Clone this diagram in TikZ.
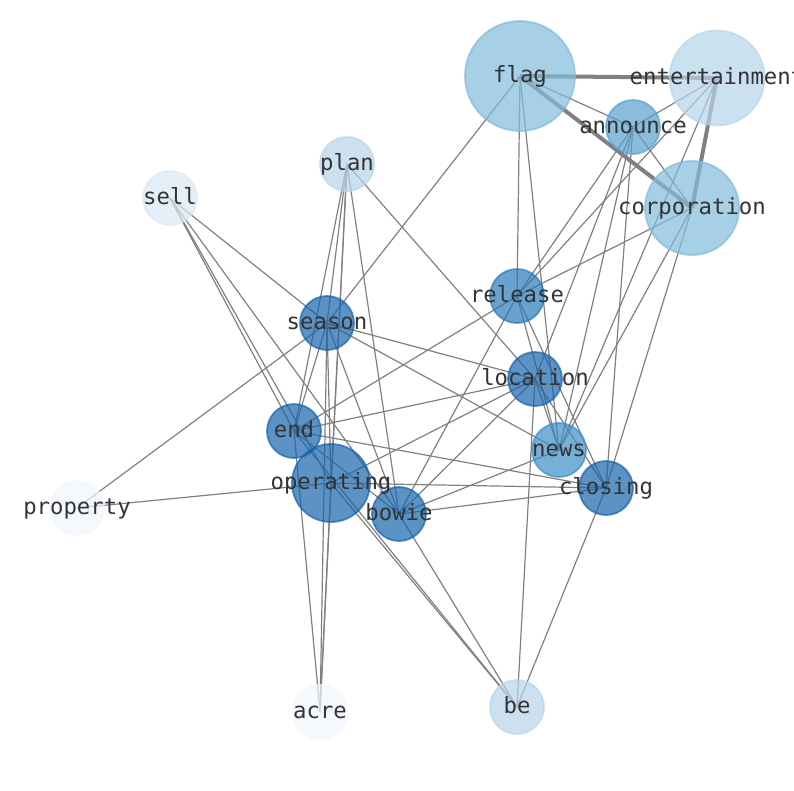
\documentclass[tikz,border=0pt]{standalone}
\usepackage{fontspec}
\newfontfamily\monof{DejaVu Sans Mono}
\definecolor{cDark}{HTML}{1764AB}
\definecolor{cRel}{HTML}{2A7AB9}
\definecolor{cNews}{HTML}{3D8DC4}
\definecolor{cAnn}{HTML}{58A1CF}
\definecolor{cFlag}{HTML}{82BBDB}
\definecolor{cEnt}{HTML}{B7D4EA}
\definecolor{cSell}{HTML}{D9E8F5}
\definecolor{cPale}{HTML}{F1F7FD}
\definecolor{edgec}{HTML}{808080}
\definecolor{labc}{HTML}{333333}
\tikzset{
  vtx/.style={circle, inner sep=0pt, line width=1.8pt, fill opacity=0.7, draw opacity=0.7},
  lbl/.style={font=\monof\fontsize{22.3}{23}\selectfont, text=labc, text height=17.5pt, text depth=4pt, inner sep=0pt, anchor=center},
  edg/.style={draw=edgec, line width=1.2pt},
  thk/.style={draw=edgec, line width=4pt},
}
\begin{document}
\begin{tikzpicture}[x=1pt,y=-1pt]
\useasboundingbox (0,0) rectangle (794,790);
\clip (0,0) rectangle (794,790);
% positions
\coordinate (flag) at (520,76);
\coordinate (ent) at (717,78);
\coordinate (announce) at (633,127);
\coordinate (corp) at (692,208);
\coordinate (plan) at (347,164);
\coordinate (sell) at (170,198);
\coordinate (release) at (517,296);
\coordinate (season) at (327,323);
\coordinate (location) at (535,379);
\coordinate (end) at (294,431);
\coordinate (news) at (559,450);
\coordinate (operating) at (331,483);
\coordinate (bowie) at (399,514);
\coordinate (closing) at (606,488);
\coordinate (property) at (77,508);
\coordinate (acre) at (320,712);
\coordinate (be) at (517,707);
% thick edges
\draw[thk] (flag) -- (ent);
\draw[thk] (flag) -- (corp);
\draw[thk] (ent) -- (corp);
% thin edges
\foreach \a/\b in {flag/announce, flag/season, flag/release, flag/news,
  ent/announce, ent/release, ent/news,
  announce/corp, announce/release, announce/location, announce/news, announce/closing,
  corp/release, corp/news, corp/closing,
  plan/season, plan/end, plan/operating, plan/bowie, plan/location, plan/acre,
  sell/season, sell/end, sell/operating, sell/bowie,
  release/end, release/bowie, release/news, release/closing,
  season/property, season/location, season/news, season/end, season/operating, season/bowie, season/acre,
  location/end, location/operating, location/bowie, location/news, location/closing, location/be,
  end/bowie, end/closing, end/be, end/acre,
  operating/property, operating/closing, operating/acre, operating/be,
  bowie/news, bowie/closing, bowie/be,
  closing/be}
  \draw[edg] (\a) -- (\b);
% nodes
\node[vtx, fill=cFlag, draw=cFlag, minimum size=110pt] (flagC) at (flag) {};
\node[vtx, fill=cEnt, draw=cEnt, minimum size=95pt] (entC) at (ent) {};
\node[vtx, fill=cAnn, draw=cAnn, minimum size=54pt] (announceC) at (announce) {};
\node[vtx, fill=cFlag, draw=cFlag, minimum size=94pt] (corpC) at (corp) {};
\node[vtx, fill=cEnt, draw=cEnt, minimum size=54pt] (planC) at (plan) {};
\node[vtx, fill=cSell, draw=cSell, minimum size=54pt] (sellC) at (sell) {};
\node[vtx, fill=cRel, draw=cRel, minimum size=54pt] (releaseC) at (release) {};
\node[vtx, fill=cDark, draw=cDark, minimum size=54pt] (seasonC) at (season) {};
\node[vtx, fill=cDark, draw=cDark, minimum size=54pt] (locationC) at (location) {};
\node[vtx, fill=cDark, draw=cDark, minimum size=54pt] (endC) at (end) {};
\node[vtx, fill=cNews, draw=cNews, minimum size=54pt] (newsC) at (news) {};
\node[vtx, fill=cDark, draw=cDark, minimum size=78pt] (operatingC) at (operating) {};
\node[vtx, fill=cDark, draw=cDark, minimum size=54pt] (bowieC) at (bowie) {};
\node[vtx, fill=cDark, draw=cDark, minimum size=54pt] (closingC) at (closing) {};
\node[vtx, fill=cPale, draw=cPale, minimum size=54pt] (propertyC) at (property) {};
\node[vtx, fill=cPale, draw=cPale, minimum size=54pt] (acreC) at (acre) {};
\node[vtx, fill=cEnt, draw=cEnt, minimum size=54pt] (beC) at (be) {};
% labels
\node[lbl] (flagL) at (flag) {flag};
\node[lbl] (entL) at (ent) {entertainment};
\node[lbl] (announceL) at (announce) {announce};
\node[lbl] (corpL) at (corp) {corporation};
\node[lbl] (planL) at (plan) {plan};
\node[lbl] (sellL) at (sell) {sell};
\node[lbl] (releaseL) at (release) {release};
\node[lbl] (seasonL) at (season) {season};
\node[lbl] (locationL) at (location) {location};
\node[lbl] (endL) at (end) {end};
\node[lbl] (newsL) at (news) {news};
\node[lbl] (operatingL) at (operating) {operating};
\node[lbl] (bowieL) at (bowie) {bowie};
\node[lbl] (closingL) at (closing) {closing};
\node[lbl] (propertyL) at (property) {property};
\node[lbl] (acreL) at (acre) {acre};
\node[lbl] (beL) at (be) {be};
\end{tikzpicture}
\end{document}
